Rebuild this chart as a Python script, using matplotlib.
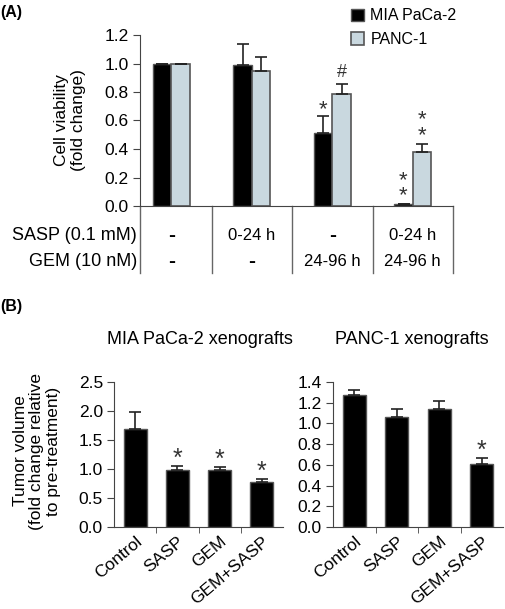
import matplotlib.pyplot as plt
import matplotlib.transforms as mtrans
import numpy as np

plt.rcParams['font.family'] = ['Liberation Sans', 'DejaVu Sans']

# Panel A: cell viability
groups_a = ["g1", "g2", "g3", "g4"]
mia_viab = [1.0, 0.99, 0.515, 0.015]
mia_err = [0.0, 0.15, 0.115, 0.0]
panc_viab = [1.0, 0.945, 0.787, 0.382]
panc_err = [0.0, 0.10, 0.07, 0.055]
sasp_row = ["-", "0-24 h", "-", "0-24 h"]
gem_row = ["-", "-", "24-96 h", "24-96 h"]
mia_marks = ["", "", "*", "**"]
panc_marks = ["", "", "#", "**"]

# Panel B: tumor volume
treatments = ["Control", "SASP", "GEM", "GEM+SASP"]
mia_tumor = [1.69, 0.98, 0.98, 0.78]
mia_tumor_err = [0.30, 0.07, 0.06, 0.055]
mia_tumor_marks = ["", "*", "*", "*"]
panc_tumor = [1.27, 1.06, 1.14, 0.61]
panc_tumor_err = [0.05, 0.08, 0.08, 0.06]
panc_tumor_marks = ["", "", "", "*"]

W, H = 505, 609
fig = plt.figure(figsize=(W / 100, H / 100), dpi=100)

def box(l, r, t, b):
    return [l / W, 1 - b / H, (r - l) / W, (b - t) / H]

edge = "#555555"
spine_c = "#444444"
ekw = dict(elinewidth=1.2, capthick=1.2, ecolor="#222222")

def stars(a, x, top, mark, size):
    # marks stacked one above the other in a single text
    n = len(mark)
    if mark == "#":
        a.annotate(mark, xy=(x, top), xytext=(0, 8), textcoords="offset points",
                   ha="center", va="center", fontsize=size - 3, color="#333333")
        return
    a.annotate("\n".join(mark), xy=(x, top), xytext=(0, 5 + 6.3 * (n - 1)),
               textcoords="offset points", ha="center", va="center",
               fontsize=size, color="#333333", linespacing=0.68)

def style_axes(a):
    for s in ["top", "right"]:
        a.spines[s].set_visible(False)
    for s in ["left", "bottom"]:
        a.spines[s].set_color(spine_c)
    a.tick_params(axis="y", length=5, color=spine_c, pad=3, labelsize=12.5)

# ---- panel A
ax = fig.add_axes(box(140, 453, 35, 206))
x = np.arange(len(groups_a))
bw = 0.23
ax.bar(x - bw / 2, mia_viab, bw, color="black", edgecolor=edge, linewidth=1,
       label="MIA PaCa-2", yerr=[np.zeros(4), mia_err], capsize=4, error_kw=ekw)
ax.bar(x + bw / 2, panc_viab, bw, color="#c9d8df", edgecolor=edge, linewidth=1.2,
       label="PANC-1", yerr=[np.zeros(4), panc_err], capsize=4, error_kw=ekw)
ax.set_xlim(-0.39, 3.5)
ax.set_ylim(0, 1.2)
yt = np.arange(0, 1.21, 0.2)
ax.set_yticks(yt)
ax.set_yticklabels([f"{v:.1f}" for v in yt])
ax.set_xticks([])
style_axes(ax)

for i in range(len(groups_a)):
    if mia_marks[i]:
        stars(ax, i - bw / 2, mia_viab[i] + mia_err[i], mia_marks[i], 16)
    if panc_marks[i]:
        stars(ax, i + bw / 2, panc_viab[i] + panc_err[i], panc_marks[i], 16)

trans = ax.get_xaxis_transform()
for xs in [-0.39, 0.5, 1.5, 2.5, 3.5]:
    ax.plot([xs, xs], [0, -0.392], transform=trans, color="#666666",
            lw=1, clip_on=False)
ax.text(-0.43, -0.175, "SASP (0.1 mM)", transform=trans, ha="right",
        va="center", fontsize=13)
ax.text(-0.43, -0.327, "GEM (10 nM)", transform=trans, ha="right",
        va="center", fontsize=13)
for i in range(len(groups_a)):
    for yy, lab in [(-0.175, sasp_row[i]), (-0.327, gem_row[i])]:
        if lab == "-":
            ax.text(i, yy, lab, transform=trans, ha="center", va="center",
                    fontsize=15, fontweight="bold")
        else:
            ax.text(i, yy, lab, transform=trans, ha="center", va="center",
                    fontsize=12)

fig.text(70 / W, 1 - 120 / H, "Cell viability\n(fold change)", rotation=90,
         ha="center", va="center", fontsize=12.5, linespacing=1.1)
fig.text(0.0, 1 - 12 / H, "(A)", fontweight="bold", fontsize=11.5, va="center")
fig.legend(loc="upper left", bbox_to_anchor=(340 / W, 1 + 3 / H), frameon=False,
           handlelength=0.8, handleheight=0.8, handletextpad=0.4,
           labelspacing=0.55, fontsize=11.5, borderpad=0.2)

# ---- panel B
shift = mtrans.ScaledTranslation(5 / 72, 0, fig.dpi_scale_trans)

def tumor_panel(rect, vals, errs, marks, ymax, step, title, title_x):
    a = fig.add_axes(rect)
    xb = np.arange(len(treatments))
    a.bar(xb, vals, 0.54, color="black", edgecolor=edge, linewidth=1,
          yerr=[np.zeros(len(vals)), errs], capsize=4, error_kw=ekw)
    a.set_xlim(-0.5, 3.5)
    a.set_ylim(0, ymax)
    ticks = np.arange(0, ymax + 1e-9, step)
    a.set_yticks(ticks)
    a.set_yticklabels([f"{t:.1f}" for t in ticks])
    a.set_xticks(xb)
    a.set_xticklabels(treatments, rotation=40, ha="right",
                      rotation_mode="anchor", fontsize=12.5)
    for lab in a.get_xticklabels():
        lab.set_transform(lab.get_transform() + shift)
    a.set_xticks(xb[:-1] + 0.5, minor=True)
    a.tick_params(axis="x", which="major", length=0, pad=5)
    a.tick_params(axis="x", which="minor", length=4, color=spine_c)
    style_axes(a)
    for i, m in enumerate(marks):
        if m:
            stars(a, i, vals[i] + errs[i], m, 18)
    fig.text(title_x / W, 1 - 340 / H, title, ha="center", va="center",
             fontsize=13)
    return a

tumor_panel(box(114, 283, 382, 527), mia_tumor, mia_tumor_err,
            mia_tumor_marks, 2.5, 0.5, "MIA PaCa-2 xenografts", 200)
tumor_panel(box(333, 503, 382, 527), panc_tumor, panc_tumor_err,
            panc_tumor_marks, 1.4, 0.2, "PANC-1 xenografts", 412)

fig.text(37 / W, 1 - 451 / H,
         "Tumor volume\n(fold change relative\nto pre-treatment)",
         rotation=90, ha="center", va="center", fontsize=12.5,
         linespacing=1.1)
fig.text(0.0, 1 - 306 / H, "(B)", fontweight="bold", fontsize=11.5, va="center")

fig.savefig("out.png", dpi=100)
